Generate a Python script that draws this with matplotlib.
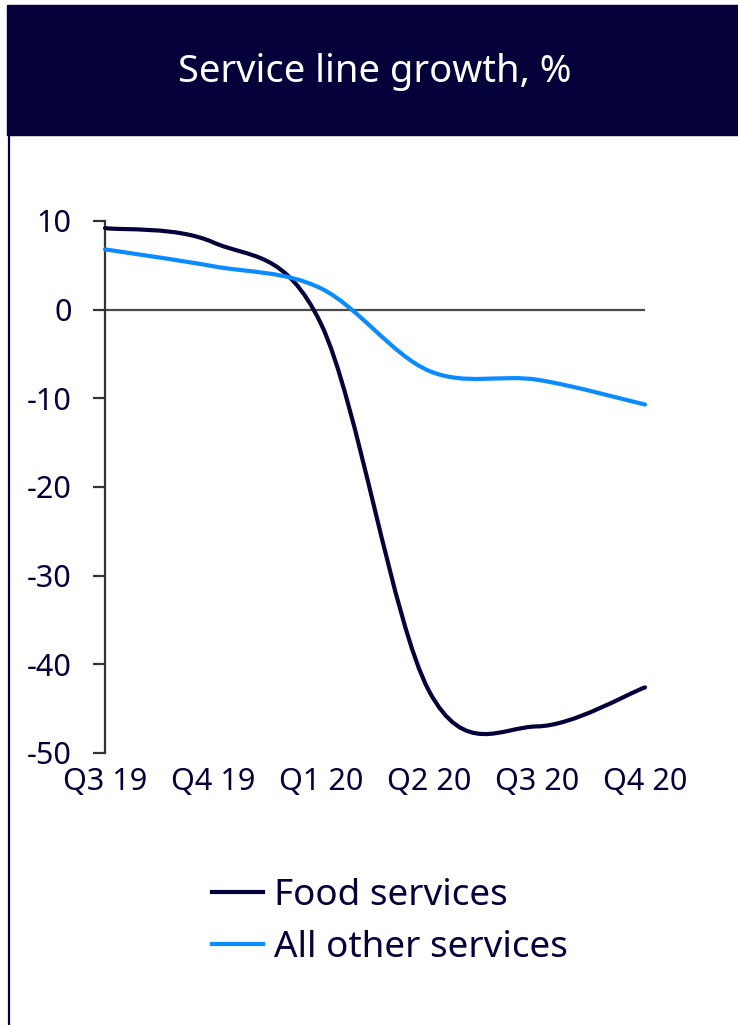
import matplotlib.pyplot as plt
from matplotlib.lines import Line2D
from matplotlib.patches import PathPatch, Rectangle
from matplotlib.path import Path

plt.rcParams['font.family'] = ['Noto Sans', 'DejaVu Sans']
plt.rcParams['axes.unicode_minus'] = False

quarters = ["Q3 19", "Q4 19", "Q1 20", "Q2 20", "Q3 20", "Q4 20"]
food = [9.2, 7.6, -1.6, -43.0, -47.0, -42.6]
other = [6.8, 4.9, 2.4, -6.9, -7.9, -10.7]

NAVY = "#03003a"
BLUE = "#0a8bff"


def smooth_path(xs, ys):
    # Catmull-Rom style bezier through every point (like a spreadsheet "smoothed line")
    pts = list(zip(xs, ys))
    n = len(pts)
    verts = [pts[0]]
    codes = [Path.MOVETO]
    for i in range(n - 1):
        p0 = pts[max(i - 1, 0)]
        p1 = pts[i]
        p2 = pts[i + 1]
        p3 = pts[min(i + 2, n - 1)]
        c1 = (p1[0] + (p2[0] - p0[0]) / 6, p1[1] + (p2[1] - p0[1]) / 6)
        c2 = (p2[0] - (p3[0] - p1[0]) / 6, p2[1] - (p3[1] - p1[1]) / 6)
        verts += [c1, c2, p2]
        codes += [Path.CURVE4] * 3
    return Path(verts, codes)


W, H = 738, 1025
fig = plt.figure(figsize=(W / 100, H / 100), dpi=100)

# header band and left rule
fig.patches.append(Rectangle((7 / W, 1 - 135 / H), 1 - 7 / W, 130 / H,
                             transform=fig.transFigure, color=NAVY, zorder=0))
fig.lines.append(Line2D([8.5 / W, 8.5 / W], [0, 1 - 134 / H],
                        transform=fig.transFigure, color=NAVY, lw=1.6))
fig.text(375 / W, 1 - 72 / H, "Service line growth, %", color="white",
         fontsize=27.5, ha="center", va="center")

ax = fig.add_axes([105 / W, 1 - 753 / H, 540 / W, 532 / H])
x = list(range(len(quarters)))

ax.axhline(0, color="#4a4a4a", lw=1.6, zorder=1)
for vals, col in [(food, NAVY), (other, BLUE)]:
    ax.add_patch(PathPatch(smooth_path(x, vals), facecolor="none", edgecolor=col,
                           lw=3, capstyle="round", clip_on=False, zorder=3))

ax.set_xlim(0, 5)
ax.set_ylim(-50, 10)
ax.set_yticks([10, 0, -10, -20, -30, -40, -50])
ax.set_xticks(x)
ax.set_xticklabels(quarters)
for side in ["top", "right", "bottom"]:
    ax.spines[side].set_visible(False)
ax.spines["left"].set_color("#333333")
ax.spines["left"].set_linewidth(1.6)
ax.tick_params(axis="y", length=9, width=1.6, color="#333333", pad=15,
               labelsize=22, labelcolor=NAVY)
ax.tick_params(axis="x", length=0, pad=10, labelsize=22, labelcolor=NAVY)

handles = [Line2D([], [], color=NAVY, lw=3), Line2D([], [], color=BLUE, lw=3)]
fig.legend(handles, ["Food services", "All other services"], loc="center",
           bbox_to_anchor=(390 / W, 1 - 922 / H), frameon=False, fontsize=26.5,
           labelcolor=NAVY, handlelength=1.4, handletextpad=0.3,
           labelspacing=0.45)

fig.savefig("out.png", dpi=100)
